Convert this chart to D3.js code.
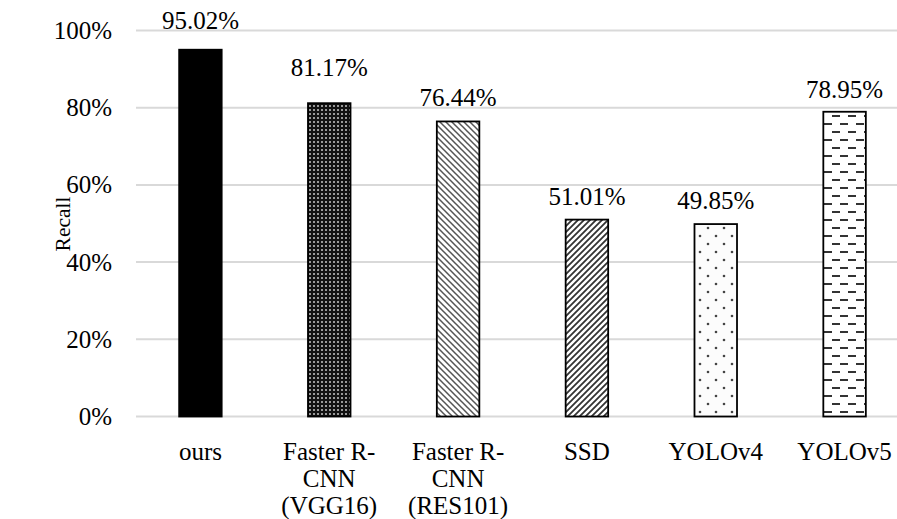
<!DOCTYPE html>
<html><head><meta charset="utf-8">
<script src="https://cdn.jsdelivr.net/npm/d3@7"></script>
<style>body{margin:0;background:#fff;}svg{display:block;} svg text{font-family:"Liberation Serif","Tinos","DejaVu Serif",serif;}</style>
</head><body><svg id="c" width="897" height="519"></svg>
<script>
const categories = [["ours"],["Faster R-","CNN","(VGG16)"],["Faster R-","CNN","(RES101)"],["SSD"],["YOLOv4"],["YOLOv5"]];
const values = [95.02, 81.17, 76.44, 51.01, 49.85, 78.95];
const labels = ["95.02%","81.17%","76.44%","51.01%","49.85%","78.95%"];
const yTicks = [0,20,40,60,80,100];
const patterns = ["solid","grid","down","up","dots","dash"];
// label gap above bar (style)
const labelGap = [21, 27, 15, 15, 15, 14];

const svg = d3.select("#c");
const FS = 25;
const defs = svg.append("defs");
let p = defs.append("pattern").attr("id","grid").attr("patternUnits","userSpaceOnUse").attr("width",4).attr("height",4);
p.append("rect").attr("width",4).attr("height",4).attr("fill","#111");
p.append("rect").attr("x",1).attr("y",1).attr("width",2).attr("height",2).attr("fill","#999");
p = defs.append("pattern").attr("id","down").attr("patternUnits","userSpaceOnUse").attr("width",6).attr("height",6);
p.append("rect").attr("width",6).attr("height",6).attr("fill","#fff");
p.append("path").attr("d","M-1,-1L7,7M-4,2L4,10M2,-4L10,4").attr("stroke","#555").attr("stroke-width",1.5);
p = defs.append("pattern").attr("id","up").attr("patternUnits","userSpaceOnUse").attr("width",6).attr("height",6);
p.append("rect").attr("width",6).attr("height",6).attr("fill","#fff");
p.append("path").attr("d","M-1,7L7,-1M-4,4L4,-4M2,10L10,2").attr("stroke","#333").attr("stroke-width",1.8);
p = defs.append("pattern").attr("id","dots").attr("patternUnits","userSpaceOnUse").attr("width",16).attr("height",16);
p.append("rect").attr("width",16).attr("height",16).attr("fill","#fcfcfc");
[[4,4],[12,12]].forEach(([cx,cy])=>p.append("circle").attr("cx",cx).attr("cy",cy).attr("r",1.3).attr("fill","#444"));
p = defs.append("pattern").attr("id","dash").attr("patternUnits","userSpaceOnUse").attr("width",16).attr("height",16);
p.append("rect").attr("width",16).attr("height",16).attr("fill","#fff");
p.append("rect").attr("x",0).attr("y",3).attr("width",8).attr("height",2).attr("fill","#333");
p.append("rect").attr("x",8).attr("y",11).attr("width",8).attr("height",2).attr("fill","#333");

const x = d3.scaleBand().domain(d3.range(categories.length)).range([136, 909]).paddingInner(0.67).paddingOuter(0.335);
const y = d3.scaleLinear().domain([0,100]).range([416.5, 30.5]);

svg.append("g").selectAll("line").data(yTicks).join("line")
  .attr("x1",136).attr("x2",909).attr("y1",d=>y(d)).attr("y2",d=>y(d))
  .attr("stroke","#d9d9d9").attr("stroke-width",2);

svg.append("g").selectAll("text").data(yTicks).join("text")
  .attr("x",112).attr("y",d=>y(d)+8.5).attr("text-anchor","end")
  .attr("font-size",FS).attr("fill","#000").text(d=>d+"%");

svg.append("text").attr("transform","translate(70,224) rotate(-90)").attr("text-anchor","middle")
  .attr("font-size",21.5).attr("fill","#000").text("Recall");

svg.append("g").selectAll("rect").data(values).join("rect")
  .attr("x",(d,i)=>x(i)).attr("width",x.bandwidth())
  .attr("y",d=>y(d)).attr("height",d=>y(0)-y(d))
  .attr("fill",(d,i)=>patterns[i]==="solid"?"#000":`url(#${patterns[i]})`)
  .attr("stroke","#000").attr("stroke-width",1.8);

svg.append("g").selectAll("text").data(values).join("text")
  .attr("x",(d,i)=>x(i)+x.bandwidth()/2).attr("y",(d,i)=>y(d)-labelGap[i])
  .attr("text-anchor","middle").attr("font-size",FS).attr("fill","#000")
  .text((d,i)=>labels[i]);

const cg = svg.append("g").selectAll("text").data(categories).join("text")
  .attr("text-anchor","middle").attr("font-size",FS).attr("fill","#000");
cg.each(function(lines,i){
  const t = d3.select(this);
  lines.forEach((l,k)=>t.append("tspan").attr("x",x(i)+x.bandwidth()/2).attr("y",460+k*27).text(l));
});
</script></body></html>
